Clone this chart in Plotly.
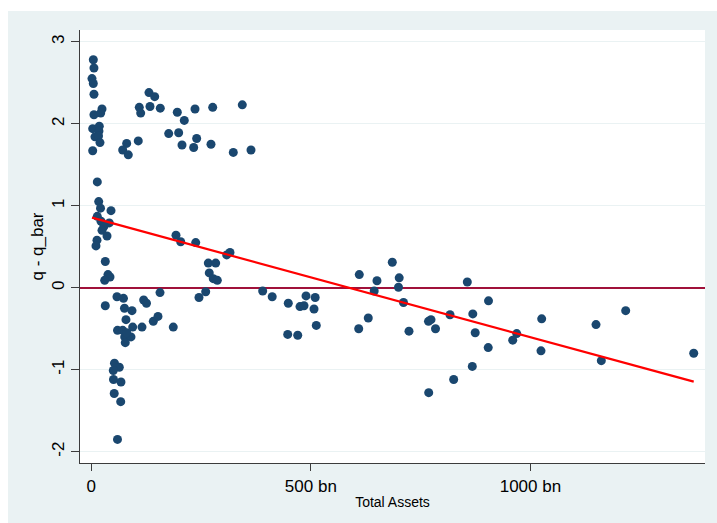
import plotly.graph_objects as go

# Total assets (bn) and deviation of q from its mean, one entry per firm
total_assets = [
    4.6, 6.1, 1.6, 4.6, 6.1, 6.1, 24.4, 21.4, 3.2, 18.2, 17.5, 8.4, 16.4, 19.8, 3.2,
    13.7, 16.9, 21.0, 44.9, 13.7, 22.1, 41.0, 28.9, 24.4, 35.8, 13.0, 10.7,
    31.9, 38.0, 42.6, 30.5, 31.9, 58.5, 73.3, 75.6, 92.7, 79.0, 94.3, 115.5,
    59.7, 71.5, 76.1, 90.4, 77.4, 80.6, 119.3, 125.7, 141.2, 151.9, 156.5, 186.7,
    52.8, 63.8, 50.1, 50.6, 67.6, 52.2, 67.0, 59.7,
    131.4, 144.4, 109.3, 112.5, 133.7, 157.1, 195.9, 211.8, 236.2, 276.5, 343.9,
    176.3, 199.0, 240.0, 206.6, 233.2, 272.6, 107.0, 80.6, 71.5, 84.3, 323.4, 363.7,
    192.9, 203.6, 237.8, 308.4, 315.9, 266.5, 283.3, 268.7, 277.8, 287.0, 260.5, 245.3,
    390.3, 412.0, 448.6, 489.0, 509.9, 475.3, 484.4, 507.2, 512.4, 447.3, 470.1,
    610.3, 609.0, 630.8, 650.6, 644.3, 685.5, 701.2, 699.6, 711.0, 723.5,
    767.9, 773.6, 783.9, 768.4, 816.9, 825.3, 856.3, 868.8, 874.3, 867.7,
    904.6, 903.9, 968.8, 959.7, 1025.7, 1024.1, 1149.4, 1217.0, 1161.5, 1371.9,
]
q_dev = [
    2.78, 2.68, 2.55, 2.49, 2.36, 2.11, 2.18, 2.13, 1.94, 1.97, 1.91, 1.84, 1.85, 1.77, 1.67,
    1.29, 1.05, 0.97, 0.94, 0.87, 0.81, 0.79, 0.75, 0.70, 0.63, 0.58, 0.51,
    0.32, 0.16, 0.13, 0.09, -0.22, -0.11, -0.13, -0.25, -0.28, -0.39, -0.48, -0.48,
    -0.52, -0.52, -0.60, -0.60, -0.67, -0.55, -0.15, -0.19, -0.41, -0.35, -0.06, -0.48,
    -0.92, -0.97, -1.01, -1.12, -1.15, -1.29, -1.39, -1.85,
    2.38, 2.33, 2.20, 2.13, 2.21, 2.19, 2.14, 2.04, 2.18, 2.20, 2.23,
    1.88, 1.89, 1.82, 1.74, 1.71, 1.75, 1.79, 1.76, 1.68, 1.62, 1.65, 1.68,
    0.64, 0.56, 0.55, 0.40, 0.43, 0.30, 0.30, 0.18, 0.11, 0.09, -0.05, -0.12,
    -0.04, -0.11, -0.19, -0.10, -0.12, -0.23, -0.22, -0.26, -0.46, -0.57, -0.58,
    0.16, -0.50, -0.37, 0.085, -0.04, 0.31, 0.12, 0.005, -0.18, -0.53,
    -0.41, -0.39, -0.50, -1.28, -0.33, -1.12, 0.07, -0.32, -0.55, -0.96,
    -0.16, -0.73, -0.56, -0.64, -0.38, -0.77, -0.45, -0.28, -0.89, -0.80,
]

# Linear fit over the observed range of total assets
fit_x = [1.6, 1371.9]
fit_y = [0.854, -1.146]

x_tick_vals = [0, 500, 1000]
x_tick_text = ["0", "500 bn", "1000 bn"]
y_tick_vals = [-2, -1, 0, 1, 2, 3]
y_tick_text = ["-2", "-1", "0", "1", "2", "3"]

W, H = 717, 523
ML, MR, MT, MB = 80, 12, 30, 60
PW, PH = W - ML - MR, H - MT - MB

FONT = "Liberation Sans, Arial, sans-serif"
NAVY = "#1a476f"
REGION = "#eaf2f3"
AXIS = "#3c3c3c"

fig = go.Figure()

fig.add_trace(go.Scatter(
    x=total_assets, y=q_dev, mode="markers",
    marker=dict(color=NAVY, size=9, line=dict(width=0)),
    showlegend=False,
))
fig.add_trace(go.Scatter(
    x=fit_x, y=fit_y, mode="lines",
    line=dict(color="#ff0000", width=2.2),
    showlegend=False,
))

shapes = [
    # white margins around the graph region
    dict(type="rect", xref="paper", yref="paper",
         x0=-ML / PW, x1=(8 - ML) / PW, y0=-MB / PH - 0.01, y1=(H - MB) / PH + 0.01,
         fillcolor="white", line=dict(width=0), layer="below"),
    dict(type="rect", xref="paper", yref="paper",
         x0=-ML / PW, x1=(W - ML) / PW + 0.01, y0=(H - MB - 11) / PH, y1=(H - MB) / PH + 0.01,
         fillcolor="white", line=dict(width=0), layer="below"),
]

fig.update_layout(
    width=W, height=H,
    margin=dict(l=ML, r=MR, t=MT, b=MB, pad=0),
    paper_bgcolor=REGION, plot_bgcolor="white",
    font=dict(family=FONT, color="#000000", size=17),
    shapes=shapes,
    xaxis=dict(
        range=[-25.7, 1397.6],
        tickmode="array", tickvals=x_tick_vals, ticktext=x_tick_text,
        ticks="outside", ticklen=7, tickwidth=1, tickcolor=AXIS,
        showline=True, linecolor=AXIS, linewidth=1.2,
        showgrid=False, zeroline=False,
        tickfont=dict(size=17),
        title=dict(text="Total Assets", font=dict(size=14), standoff=2),
    ),
    yaxis=dict(
        range=[-2.138, 3.143],
        tickmode="array", tickvals=y_tick_vals, ticktext=y_tick_text,
        tickangle=-90,
        ticks="outside", ticklen=8, tickwidth=1, tickcolor=AXIS,
        showline=True, linecolor=AXIS, linewidth=1.2,
        showgrid=True, gridcolor=REGION, gridwidth=1,
        # reference line at zero
        zeroline=True, zerolinecolor="#a0113a", zerolinewidth=1.8,
        tickfont=dict(size=17),
        title=dict(text="q - q_bar", font=dict(size=17), standoff=1),
    ),
)

fig.write_html("out.html")
